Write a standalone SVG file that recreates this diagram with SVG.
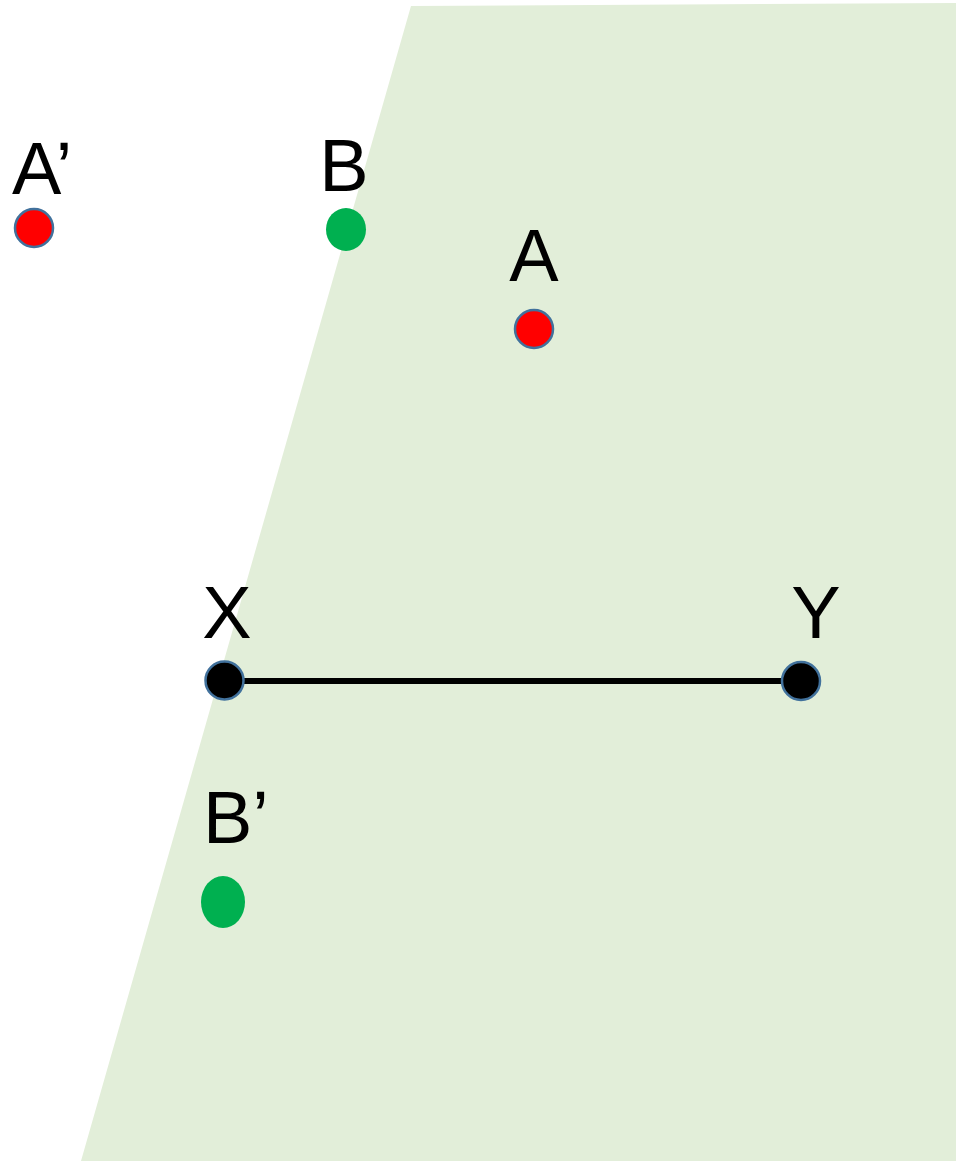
<svg xmlns="http://www.w3.org/2000/svg" width="956" height="1164" viewBox="0 0 956 1164">
<style>
.lbl{font-family:"Liberation Sans",Arial,sans-serif;font-size:74px;fill:#000;}
.red{fill:#FF0000;stroke:#41719C;stroke-width:2.5;}
.blk{fill:#000;stroke:#41719C;stroke-width:2.5;}
.grn{fill:#00B050;}
</style>
<rect width="956" height="1164" fill="#fff"/>
<polygon id="plane" points="411,6 956,3 956,1161 81,1161" fill="#E2EED9"/>
<g id="connectors">
<line x1="224" y1="681" x2="801" y2="681" stroke="#000" stroke-width="6"/>
</g>
<g id="A-prime"><text class="lbl" x="12" y="194">A’</text><circle class="red" cx="34" cy="228" r="19"/></g>
<g id="B"><text class="lbl" x="344" y="191" text-anchor="middle">B</text><ellipse class="grn" cx="346" cy="229.5" rx="20" ry="21.5"/></g>
<g id="A"><text class="lbl" x="534" y="281" text-anchor="middle">A</text><circle class="red" cx="534" cy="329" r="19"/></g>
<g id="X"><text class="lbl" x="227" y="638" text-anchor="middle">X</text><circle class="blk" cx="224.5" cy="680.5" r="19"/></g>
<g id="Y"><text class="lbl" x="816" y="638" text-anchor="middle">Y</text><circle class="blk" cx="801" cy="681" r="19"/></g>
<g id="B-prime"><text class="lbl" x="203" y="843">B’</text><ellipse class="grn" cx="223" cy="902" rx="22" ry="26"/></g>
</svg>
